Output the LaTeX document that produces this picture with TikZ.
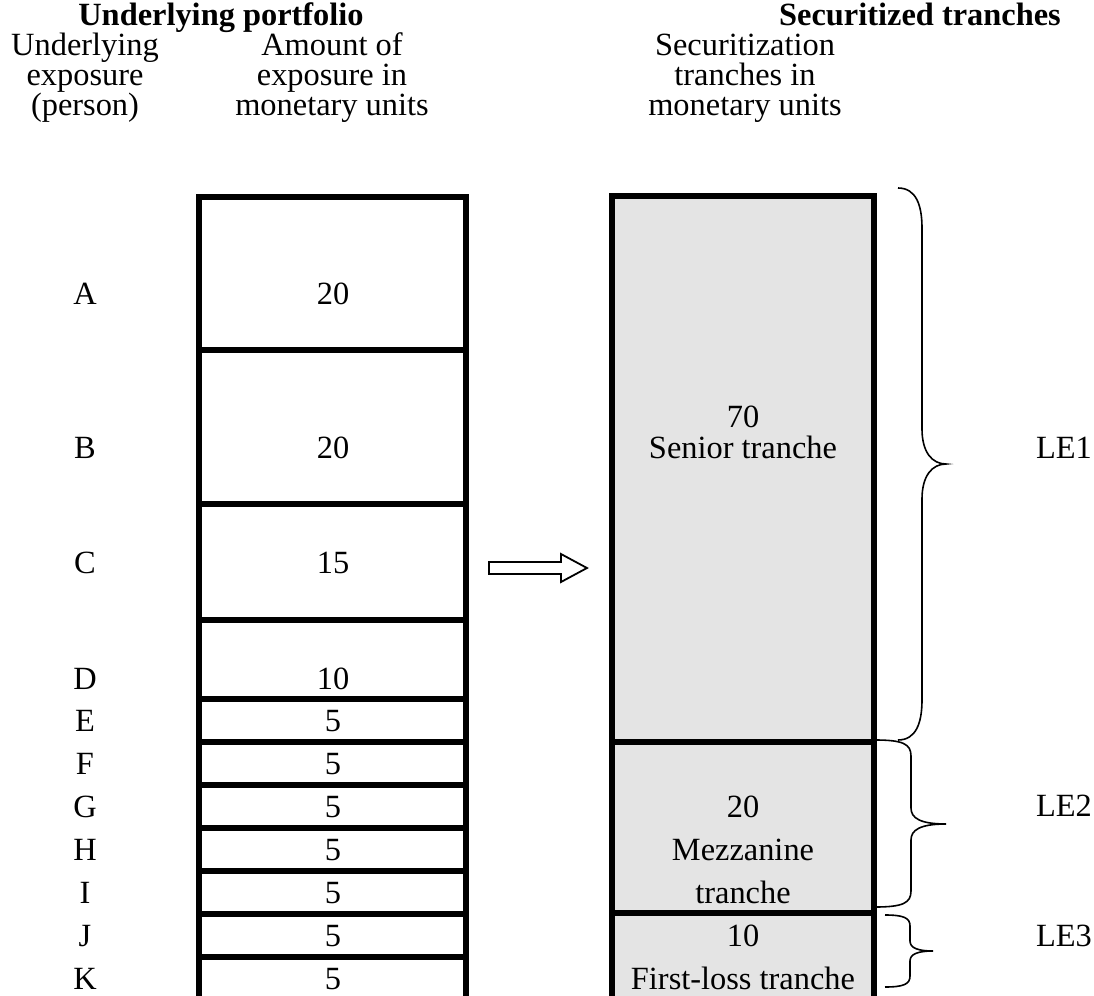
\documentclass[tikz,border=0pt]{standalone}
\usepackage{fontspec}
\setmainfont{Liberation Serif}
\begin{document}
\begin{tikzpicture}[x=0.5pt,y=-0.5pt,
  txt/.style={anchor=base,inner sep=0pt,font=\fontsize{16.2}{15}\selectfont},
  hdr/.style={anchor=base,inner sep=0pt,font=\fontsize{16.2}{15}\selectfont\bfseries},
  heavy/.style={line width=2.8pt},
  bracestyle/.style={line width=0.8pt},
  arrowbox/.style={line width=0.9pt,line join=miter},
  tranchefill/.style={fill=black!10.5},
]
\useasboundingbox (0,0) rectangle (1094,996);

% headers
\node[hdr] (hL) at (221,25) {Underlying portfolio};
\node[hdr] (hR) at (920,25) {Securitized tranches};
\node[txt] (c1a) at (85,55) {Underlying};
\node[txt] (c1b) at (85,85) {exposure};
\node[txt] (c1c) at (85,115) {(person)};
\node[txt] (c2a) at (332,55) {Amount of};
\node[txt] (c2b) at (332,85) {exposure in};
\node[txt] (c2c) at (332,115) {monetary units};
\node[txt] (c3a) at (745,55) {Securitization};
\node[txt] (c3b) at (745,85) {tranches in};
\node[txt] (c3c) at (745,115) {monetary units};

% right column (tranches)
\fill[tranchefill] (612,196) rectangle (874,996);
\draw[heavy] (612,996) -- (612,196) -- (874,196) -- (874,996);
\foreach \yy in {742,913} \draw[heavy] (612,\yy) -- (874,\yy);

% left column (portfolio)
\draw[heavy] (199,996) -- (199,197) -- (466,197) -- (466,996);
\foreach \yy in {350,504,620,699,742,785,828,871,914,957} \draw[heavy] (199,\yy) -- (466,\yy);

% labels and amounts
\foreach \n/\v/\yy in {A/20/304,B/20/458,C/15/573,D/10/689,E/5/731,F/5/774,G/5/817,H/5/860,I/5/903,J/5/946,K/5/989}{
  \node[txt] (p\n) at (85,\yy) {\n};
  \node[txt] (v\n) at (333,\yy) {\v};
}

% tranche texts
\node[txt] (s1) at (743,427) {70};
\node[txt] (s2) at (743,458) {Senior tranche};
\node[txt] (m1) at (743,817) {20};
\node[txt] (m2) at (743,860) {Mezzanine};
\node[txt] (m3) at (743,903) {tranche};
\node[txt] (f1) at (743,946) {10};
\node[txt] (f2) at (743,989) {First-loss tranche};

% hollow arrow
\draw[arrowbox] (489,562) -- (561,562) -- (561,554) -- (587,568) -- (561,582) -- (561,574) -- (489,574) -- cycle;

% braces
\draw[bracestyle] (898,188) .. controls (916,188) and (922,205) .. (922,228) -- (922,429)
  .. controls (922,452) and (932,464) .. (946,464) .. controls (932,464) and (922,476) .. (922,499)
  -- (922,700) .. controls (922,723) and (916,740) .. (898,740);
\draw[bracestyle] (875,740) .. controls (903,740) and (911,744) .. (911,756) -- (911,808)
  .. controls (911,818) and (920,824) .. (946,824) .. controls (920,824) and (911,830) .. (911,840)
  -- (911,891) .. controls (911,903) and (903,907) .. (875,907);
\draw[bracestyle] (885,915) .. controls (904,915) and (910,918) .. (910,926) -- (910,941)
  .. controls (910,948) and (918,951) .. (933,951) .. controls (918,951) and (910,954) .. (910,961)
  -- (910,976) .. controls (910,984) and (904,987) .. (885,987);

\node[txt] (le1) at (1064,458) {LE1};
\node[txt] (le2) at (1064,816) {LE2};
\node[txt] (le3) at (1064,946) {LE3};
\end{tikzpicture}
\end{document}
